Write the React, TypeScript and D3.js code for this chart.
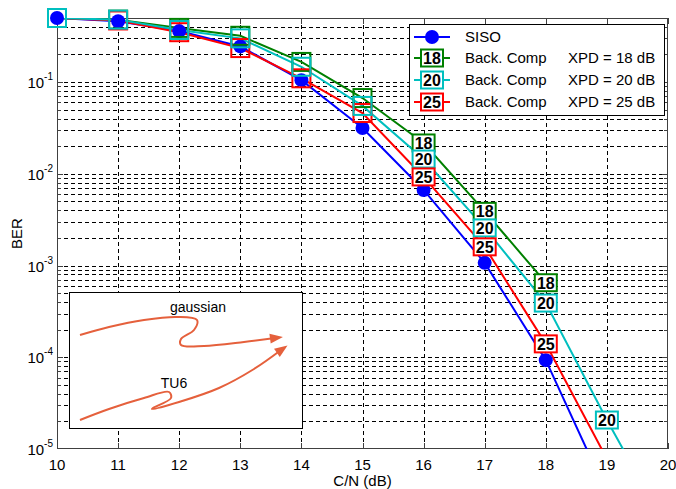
import React from "react";
import * as d3 from "d3";

const W = 676;
const H = 489;

const xTicks = [10, 11, 12, 13, 14, 15, 16, 17, 18, 19, 20];
const yDecades = [-5, -4, -3, -2, -1];

const sisoX = [10, 11, 12, 13, 14, 15, 16, 17, 18, 19];
const sisoY = [0.5, 0.46, 0.36, 0.245, 0.105, 0.0316, 0.00667, 0.00107, 9.3e-5, 3.3e-6];

const xpd18X = [10, 11, 12, 13, 14, 15, 16, 17, 18];
const xpd18Y = [0.5, 0.48, 0.39, 0.32, 0.166, 0.067, 0.0217, 0.0039, 0.00065];

const xpd20X = [10, 11, 12, 13, 14, 15, 16, 17, 18, 19, 20];
const xpd20Y = [0.5, 0.48, 0.37, 0.3, 0.147, 0.055, 0.0145, 0.00257, 0.00039, 2.07e-5, 1.3e-6];

const xpd25X = [10, 11, 12, 13, 14, 15, 16, 17, 18, 19];
const xpd25Y = [0.5, 0.47, 0.35, 0.235, 0.11, 0.046, 0.00925, 0.0016, 0.00014, 7.8e-6];

const legendLabels = ["SISO", "Back. Comp", "Back. Comp", "Back. Comp"];
const legendXpd = ["", "XPD = 18 dB", "XPD = 20 dB", "XPD = 25 dB"];
const boxLabels = ["18", "20", "25"];

const FONT = "'Liberation Sans', Arial, sans-serif";

const margin = { left: 57, right: 8, top: 18, bottom: 40 };

export default function App() {
  const x = d3.scaleLinear().domain([10, 20]).range([margin.left, W - margin.right]);
  const y = d3.scaleLog().domain([1e-5, 0.5]).range([H - margin.bottom, margin.top]);
  const [x0, x1] = x.range();
  const [yb, yt] = y.range();

  // minor grid values
  const gridY: number[] = [];
  yDecades.forEach((e) => {
    for (let m = 1; m <= 9; m++) {
      const v = m * Math.pow(10, e);
      if (v > 1e-5 && v < 0.5) gridY.push(v);
    }
  });

  const line = d3
    .line<[number, number]>()
    .x((d) => x(d[0]))
    .y((d) => y(d[1]));

  const series = [
    { key: "siso", xs: sisoX, ys: sisoY, color: "#0000ff", label: "" },
    { key: "18", xs: xpd18X, ys: xpd18Y, color: "#008000", label: boxLabels[0] },
    { key: "25", xs: xpd25X, ys: xpd25Y, color: "#ff0000", label: boxLabels[2] },
    { key: "20", xs: xpd20X, ys: xpd20Y, color: "#00bfbf", label: boxLabels[1] },
  ];

  const boxW = 22;
  const boxH = 17;

  const Box = ({ cx, cy, color, label }: any) => (
    <g>
      <rect x={cx - boxW / 2} y={cy - boxH / 2} width={boxW} height={boxH} fill="#fff" stroke={color} strokeWidth={2} />
      <text x={cx} y={cy + 6} textAnchor="middle" fontFamily={FONT} fontSize={16} fontWeight="bold" fill="#000">
        {label}
      </text>
    </g>
  );

  // inset
  const ins = { x: 69, y: 292, w: 233, h: 136 };
  const arrowLine = d3
    .line<[number, number]>()
    .x((d) => ins.x + d[0])
    .y((d) => ins.y + d[1])
    .curve(d3.curveCatmullRom.alpha(0.5));
  const gaussPts: [number, number][] = [
    [11, 43], [40, 35], [75, 28], [108, 25], [128, 28], [125, 38], [112, 47], [112, 53], [135, 54], [175, 50], [206, 46],
  ];
  const tu6Pts: [number, number][] = [
    [11, 128], [40, 117], [75, 106], [100, 100], [102, 106], [84, 116], [83, 117], [110, 110], [150, 96], [185, 77], [212, 58],
  ];
  const arrowColor = "#e5603c";
  const arrowHead = (pts: [number, number][]) => {
    const a = pts[pts.length - 2];
    const b = pts[pts.length - 1];
    const ang = Math.atan2(b[1] - a[1], b[0] - a[0]);
    const L = 13, Wd = 5;
    const tip: [number, number] = [ins.x + b[0] + Math.cos(ang) * 8, ins.y + b[1] + Math.sin(ang) * 8];
    const bx = tip[0] - Math.cos(ang) * L;
    const by = tip[1] - Math.sin(ang) * L;
    const p1 = [bx + Math.sin(ang) * Wd, by - Math.cos(ang) * Wd];
    const p2 = [bx - Math.sin(ang) * Wd, by + Math.cos(ang) * Wd];
    return `M${tip[0]},${tip[1]}L${p1[0]},${p1[1]}L${p2[0]},${p2[1]}Z`;
  };

  // legend
  const lg = { x: 409, y: 24, w: 255, h: 91 };
  const rowY = [37, 58, 80, 102];
  const legendColors = ["#0000ff", "#008000", "#00bfbf", "#ff0000"];
  const legendBox = [null, boxLabels[0], boxLabels[1], boxLabels[2]];

  return (
    <svg width={W} height={H} style={{ position: "absolute", left: 0, top: 0, background: "#fff" }}>
      <defs>
        <clipPath id="plotClip">
          <rect x={x0} y={yt} width={x1 - x0} height={yb - yt} />
        </clipPath>
      </defs>
      <rect x={0} y={0} width={W} height={H} fill="#fff" />
      {/* grid */}
      <g stroke="#000" strokeWidth={1} strokeDasharray="4,3" shapeRendering="crispEdges">
        {xTicks.slice(1, -1).map((t) => (
          <line key={"gx" + t} x1={Math.round(x(t)) + 0.5} x2={Math.round(x(t)) + 0.5} y1={yt} y2={yb} />
        ))}
        {gridY.map((v, i) => (
          <line key={"gy" + i} x1={x0} x2={x1} y1={Math.round(y(v)) + 0.5} y2={Math.round(y(v)) + 0.5} />
        ))}
      </g>
      {/* ticks */}
      <g stroke="#404040" strokeWidth={1} shapeRendering="crispEdges">
        {xTicks.map((t) => (
          <g key={"tx" + t}>
            <line x1={Math.round(x(t)) + 0.5} x2={Math.round(x(t)) + 0.5} y1={yb} y2={yb - 6} />
            <line x1={Math.round(x(t)) + 0.5} x2={Math.round(x(t)) + 0.5} y1={yt} y2={yt + 6} />
          </g>
        ))}
        {gridY.map((v, i) => {
          const isMajor = Math.abs(Math.log10(v) - Math.round(Math.log10(v))) < 1e-6;
          const len = isMajor ? 6 : 4;
          const yy = Math.round(y(v)) + 0.5;
          return (
            <g key={"ty" + i}>
              <line x1={x0} x2={x0 + len} y1={yy} y2={yy} />
              <line x1={x1} x2={x1 - len} y1={yy} y2={yy} />
            </g>
          );
        })}
      </g>
      {/* axes frame */}
      <rect x={x0 + 0.5} y={yt + 0.5} width={x1 - x0 - 1} height={yb - yt - 1} fill="none" stroke="#404040" strokeWidth={1.5} shapeRendering="crispEdges" />

      {/* series lines */}
      <g clipPath="url(#plotClip)">
        {series.map((s) => (
          <path
            key={"l" + s.key}
            d={line(s.xs.map((v, i) => [v, s.ys[i]] as [number, number])) || ""}
            fill="none"
            stroke={s.color}
            strokeWidth={2}
          />
        ))}
      </g>
      {/* markers */}
      {series.map((s) =>
        s.xs.map((v, i) => {
          const val = s.ys[i];
          if (val < 1e-5) return null;
          const cx = x(v);
          const cy = y(val);
          if (s.key === "siso") {
            return <circle key={"m" + s.key + i} cx={cx} cy={cy} r={7} fill={s.color} />;
          }
          if (v <= 15) {
            return (
              <rect key={"m" + s.key + i} x={cx - 9} y={cy - 9} width={18} height={18} fill="none" stroke={s.color} strokeWidth={2} />
            );
          }
          return null;
        })
      )}
      {/* labelled boxes */}
      {[series[1], series[3], series[2]].map((s) =>
        s.xs.map((v, i) => {
          const val = s.ys[i];
          if (v <= 15 || val < 1e-5) return null;
          return <Box key={"b" + s.key + i} cx={x(v)} cy={y(val)} color={s.color} label={s.label} />;
        })
      )}

      {/* axis labels */}
      <g fontFamily={FONT} fontSize={15} fill="#000">
        {xTicks.map((t) => (
          <text key={"xl" + t} x={x(t)} y={470} textAnchor="middle">
            {t}
          </text>
        ))}
        {yDecades.map((e) => (
          <text key={"yl" + e} x={53} y={y(Math.pow(10, e)) + 6} textAnchor="end">
            10
            <tspan fontSize={10} dy={-8}>
              {String(e)}
            </tspan>
          </text>
        ))}
        <text x={(x0 + x1) / 2} y={486} textAnchor="middle">
          C/N  (dB)
        </text>
        <text transform={`translate(22,${(yt + yb) / 2}) rotate(-90)`} textAnchor="middle">
          BER
        </text>
      </g>

      {/* legend */}
      <rect x={lg.x + 0.5} y={lg.y + 0.5} width={lg.w} height={lg.h} fill="#fff" stroke="#000" strokeWidth={1} shapeRendering="crispEdges" />
      {rowY.map((ry, i) => (
        <g key={"lg" + i}>
          <line x1={414} x2={450} y1={ry} y2={ry} stroke={legendColors[i]} strokeWidth={2} />
          {i === 0 ? (
            <circle cx={432} cy={ry} r={7} fill={legendColors[i]} />
          ) : (
            <Box cx={432} cy={ry} color={legendColors[i]} label={legendBox[i]} />
          )}
          <text x={465} y={ry + 5} fontFamily={FONT} fontSize={15} fill="#000">
            {legendLabels[i]}
          </text>
          <text x={568} y={ry + 5} fontFamily={FONT} fontSize={15} fill="#000">
            {legendXpd[i]}
          </text>
        </g>
      ))}

      {/* inset */}
      <rect x={ins.x + 0.5} y={ins.y + 0.5} width={ins.w} height={ins.h} fill="#fff" stroke="#000" strokeWidth={1} shapeRendering="crispEdges" />
      <path d={arrowLine(gaussPts) || ""} fill="none" stroke={arrowColor} strokeWidth={2} />
      <path d={arrowHead(gaussPts)} fill={arrowColor} />
      <path d={arrowLine(tu6Pts) || ""} fill="none" stroke={arrowColor} strokeWidth={2} />
      <path d={arrowHead(tu6Pts)} fill={arrowColor} />
      <text x={198} y={312} textAnchor="middle" fontFamily={FONT} fontSize={14} fill="#000">
        gaussian
      </text>
      <text x={174} y={388} textAnchor="middle" fontFamily={FONT} fontSize={14} fill="#000">
        TU6
      </text>
    </svg>
  );
}
